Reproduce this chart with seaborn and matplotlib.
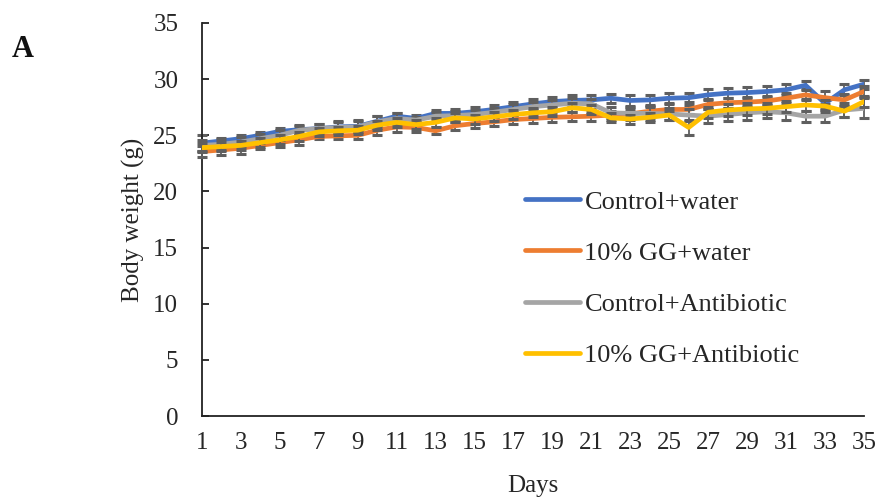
import matplotlib
matplotlib.use("Agg")
import matplotlib.pyplot as plt
import seaborn as sns
import numpy as np

# Daily body weight (g), days 1..35
days = list(range(1, 36))

control_water = [24.3, 24.5, 24.7, 25.0, 25.35, 25.5, 25.6, 25.75, 25.8, 26.25,
                 26.7, 26.5, 26.95, 26.95, 27.1, 27.3, 27.55, 27.8, 28.0, 28.1,
                 28.15, 28.3, 28.1, 28.15, 28.3, 28.35, 28.6, 28.75, 28.8, 28.9,
                 29.05, 29.45, 27.85, 29.05, 29.55]
gg_water = [23.55, 23.7, 23.85, 24.1, 24.35, 24.6, 24.9, 24.95, 25.0, 25.45,
            25.75, 25.7, 25.4, 25.85, 26.05, 26.2, 26.4, 26.5, 26.6, 26.65,
            26.7, 26.8, 26.9, 27.15, 27.3, 27.3, 27.75, 27.9, 27.95, 28.05,
            28.3, 28.6, 28.35, 28.15, 28.9]
control_abx = [24.1, 24.2, 24.4, 24.7, 25.0, 25.45, 25.6, 25.7, 25.75, 26.2,
               26.5, 26.35, 26.7, 26.75, 26.85, 27.05, 27.3, 27.55, 27.7, 27.85,
               27.8, 27.0, 26.95, 26.95, 26.9, 26.8, 26.7, 26.85, 27.0, 27.1,
               27.0, 26.7, 26.7, 27.25, 27.4]
gg_abx = [23.9, 24.0, 24.1, 24.35, 24.6, 24.9, 25.3, 25.4, 25.45, 25.9,
          26.15, 25.95, 26.15, 26.55, 26.45, 26.65, 26.85, 27.0, 27.1, 27.45,
          27.3, 26.55, 26.45, 26.6, 26.8, 25.7, 27.05, 27.25, 27.35, 27.4,
          27.55, 27.7, 27.6, 27.15, 28.0]

# Standard errors
control_water_err = [0.7, 0.3, 0.3, 0.3, 0.3, 0.4, 0.4, 0.5, 0.55, 0.5,
                     0.3, 0.3, 0.3, 0.4, 0.4, 0.4, 0.4, 0.45, 0.4, 0.45,
                     0.4, 0.4, 0.45, 0.45, 0.45, 0.4, 0.5, 0.45, 0.5, 0.5,
                     0.5, 0.35, 0.5, 0.5, 0.4]
gg_water_err = [0.5, 0.45, 0.5, 0.35, 0.35, 0.45, 0.2, 0.3, 0.3, 0.45,
                0.45, 0.45, 0.3, 0.35, 0.4, 0.4, 0.4, 0.4, 0.4, 0.4,
                0.4, 0.4, 0.4, 0.45, 0.45, 0.4, 0.45, 0.45, 0.45, 0.45,
                0.45, 0.45, 0.55, 0.5, 0.45]
control_abx_err = [0.5, 0.5, 0.45, 0.4, 0.45, 0.4, 0.4, 0.5, 0.5, 0.55,
                   0.45, 0.3, 0.35, 0.4, 0.4, 0.4, 0.45, 0.45, 0.45, 0.45,
                   0.45, 0.5, 0.55, 0.55, 0.55, 0.55, 0.6, 0.6, 0.6, 0.6,
                   0.65, 0.5, 0.55, 0.6, 0.9]
gg_abx_err = [0.4, 0.4, 0.4, 0.4, 0.4, 0.4, 0.35, 0.35, 0.35, 0.4,
              0.4, 0.4, 0.4, 0.4, 0.4, 0.4, 0.4, 0.4, 0.4, 0.4,
              0.4, 0.4, 0.4, 0.4, 0.4, 0.7, 0.5, 0.5, 0.5, 0.5,
              0.5, 0.5, 0.5, 0.5, 0.5]

series_names = ["Control+water", "10% GG+water", "Control+Antibiotic", "10% GG+Antibiotic"]
series_values = [control_water, gg_water, control_abx, gg_abx]
series_errors = [control_water_err, gg_water_err, control_abx_err, gg_abx_err]
series_colors = ["#4472C4", "#ED7D31", "#A5A5A5", "#FFC000"]

x_ticks = list(range(1, 36, 2))
y_ticks = list(range(0, 36, 5))

sns.set_theme(style="white")
plt.rcParams["font.family"] = ["Liberation Serif", "DejaVu Serif"]

fig = plt.figure(figsize=(8.78, 4.99), dpi=100)
ax = fig.add_axes([0.230, 0.166, 0.754, 0.788])

for i, (name, vals, errs, col) in enumerate(zip(series_names, series_values, series_errors, series_colors)):
    ax.errorbar(days, vals, yerr=errs, fmt="none", ecolor="#5f5f5f",
                elinewidth=1.3, capsize=3.3, capthick=2.2, zorder=2 + 2 * i, clip_on=False)
    sns.lineplot(x=days, y=vals, ax=ax, color=col, linewidth=3.4, label=name,
                 zorder=3 + 2 * i)

ax.set_xlim(1, 35)
ax.set_ylim(0, 35)
ax.set_xticks(x_ticks)
ax.set_xticklabels([str(t) for t in x_ticks])
ax.set_yticks(y_ticks)

for side in ["top", "right"]:
    ax.spines[side].set_visible(False)
for side in ["left", "bottom"]:
    ax.spines[side].set_color("#222222")
    ax.spines[side].set_linewidth(1.3)

ax.tick_params(axis="y", direction="in", length=5, width=1.3, color="#222222",
               labelsize=18, pad=17, left=True)
ax.tick_params(axis="x", length=0, labelsize=18, pad=11.5, bottom=False)

ax.set_xlabel("Days", fontsize=18, labelpad=15)
ax.set_ylabel("Body weight (g)", fontsize=18, labelpad=6)

leg = ax.legend(loc="upper left", bbox_to_anchor=(0.488, 0.575), frameon=False,
                fontsize=19, handlelength=2.1, handletextpad=0.15,
                labelspacing=1.05, borderpad=0, borderaxespad=0)
for h in leg.get_lines():
    h.set_linewidth(3.4)

fig.text(0.013, 0.885, "A", fontsize=22, fontweight="bold", color="#111111")

fig.savefig("out.png", dpi=100)
